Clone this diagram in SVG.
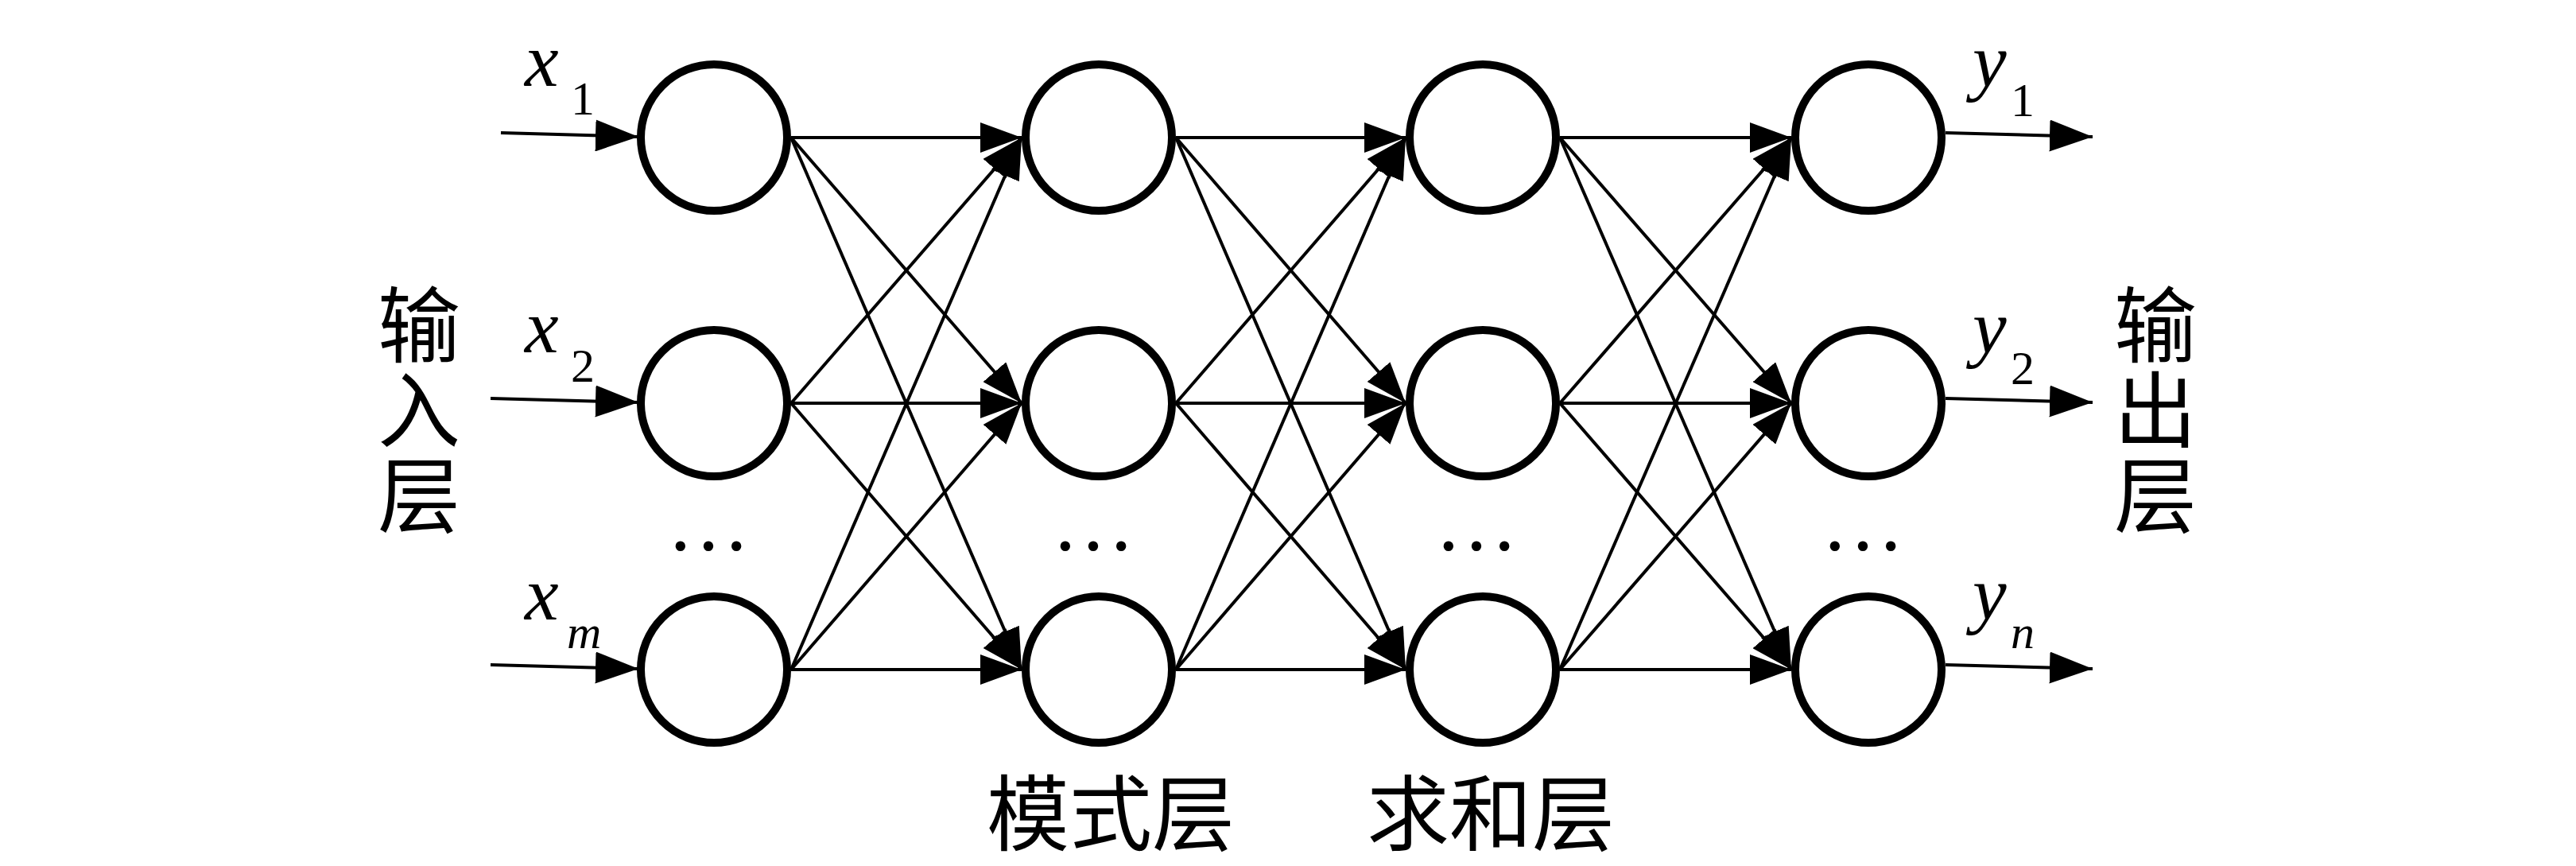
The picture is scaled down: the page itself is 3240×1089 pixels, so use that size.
<svg xmlns="http://www.w3.org/2000/svg" width="3240" height="1089" viewBox="0 0 3240 1089">
<style>
.node{fill:#fff;stroke:#000;stroke-width:10}
.edge{stroke:#000;stroke-width:4;fill:none;marker-end:url(#ah)}
.io{stroke:#000;stroke-width:4;fill:none;marker-end:url(#ah2)}
.var{font-family:"Liberation Serif","Times New Roman",serif;font-style:italic;font-size:96px;fill:#000}
.sub{font-family:"Liberation Serif","Times New Roman",serif;font-size:60px;fill:#000}
.subi{font-family:"Liberation Serif","Times New Roman",serif;font-style:italic;font-size:60px;fill:#000}
.dots{font-family:"Liberation Serif","Times New Roman",serif;font-size:105px;fill:#000;text-anchor:middle}
.cjk{font-family:"Noto Sans CJK SC","Noto Sans CJK JP",sans-serif;font-size:104px;fill:#000;text-anchor:middle}
.vcjk{font-family:"Noto Sans CJK SC","Noto Sans CJK JP",sans-serif;font-size:104px;fill:#000;writing-mode:vertical-rl;text-orientation:upright;letter-spacing:3px}
</style>
<defs>
<marker id="ah" viewBox="0 0 52 38" refX="52" refY="19" markerWidth="52" markerHeight="38" markerUnits="userSpaceOnUse" orient="auto">
<path d="M0,0 L52,19 L0,38 z" fill="#000"/>
</marker>
<marker id="ah2" viewBox="0 0 54 40" refX="54" refY="20" markerWidth="54" markerHeight="40" markerUnits="userSpaceOnUse" orient="auto">
<path d="M0,0 L54,20 L0,40 z" fill="#000"/>
</marker>
</defs>
<g id="connectors">
<line class="io" x1="630" y1="167" x2="803" y2="172"/>
<line class="io" x1="617" y1="501" x2="803" y2="506"/>
<line class="io" x1="617" y1="836" x2="803" y2="841"/>
<line class="io" x1="2447" y1="167" x2="2632" y2="172"/>
<line class="io" x1="2447" y1="501" x2="2632" y2="506"/>
<line class="io" x1="2447" y1="836" x2="2632" y2="841"/>
<line class="edge" x1="995" y1="173" x2="1285" y2="173"/>
<line class="edge" x1="995" y1="173" x2="1285" y2="507"/>
<line class="edge" x1="995" y1="173" x2="1285" y2="842"/>
<line class="edge" x1="995" y1="507" x2="1285" y2="173"/>
<line class="edge" x1="995" y1="507" x2="1285" y2="507"/>
<line class="edge" x1="995" y1="507" x2="1285" y2="842"/>
<line class="edge" x1="995" y1="842" x2="1285" y2="173"/>
<line class="edge" x1="995" y1="842" x2="1285" y2="507"/>
<line class="edge" x1="995" y1="842" x2="1285" y2="842"/>
<line class="edge" x1="1479" y1="173" x2="1768" y2="173"/>
<line class="edge" x1="1479" y1="173" x2="1768" y2="507"/>
<line class="edge" x1="1479" y1="173" x2="1768" y2="842"/>
<line class="edge" x1="1479" y1="507" x2="1768" y2="173"/>
<line class="edge" x1="1479" y1="507" x2="1768" y2="507"/>
<line class="edge" x1="1479" y1="507" x2="1768" y2="842"/>
<line class="edge" x1="1479" y1="842" x2="1768" y2="173"/>
<line class="edge" x1="1479" y1="842" x2="1768" y2="507"/>
<line class="edge" x1="1479" y1="842" x2="1768" y2="842"/>
<line class="edge" x1="1962" y1="173" x2="2253" y2="173"/>
<line class="edge" x1="1962" y1="173" x2="2253" y2="507"/>
<line class="edge" x1="1962" y1="173" x2="2253" y2="842"/>
<line class="edge" x1="1962" y1="507" x2="2253" y2="173"/>
<line class="edge" x1="1962" y1="507" x2="2253" y2="507"/>
<line class="edge" x1="1962" y1="507" x2="2253" y2="842"/>
<line class="edge" x1="1962" y1="842" x2="2253" y2="173"/>
<line class="edge" x1="1962" y1="842" x2="2253" y2="507"/>
<line class="edge" x1="1962" y1="842" x2="2253" y2="842"/>
</g>
<g id="input-layer">
<circle id="in1" class="node" cx="898" cy="173" r="92"/>
<circle id="in2" class="node" cx="898" cy="507" r="92"/>
<circle id="in3" class="node" cx="898" cy="842" r="92"/>
<text class="dots" x="891" y="692">…</text>
</g>
<g id="pattern-layer">
<circle id="p1" class="node" cx="1382" cy="173" r="92"/>
<circle id="p2" class="node" cx="1382" cy="507" r="92"/>
<circle id="p3" class="node" cx="1382" cy="842" r="92"/>
<text class="dots" x="1375" y="692">…</text>
</g>
<g id="sum-layer">
<circle id="s1" class="node" cx="1865" cy="173" r="92"/>
<circle id="s2" class="node" cx="1865" cy="507" r="92"/>
<circle id="s3" class="node" cx="1865" cy="842" r="92"/>
<text class="dots" x="1857" y="692">…</text>
</g>
<g id="output-layer">
<circle id="o1" class="node" cx="2350" cy="173" r="92"/>
<circle id="o2" class="node" cx="2350" cy="507" r="92"/>
<circle id="o3" class="node" cx="2350" cy="842" r="92"/>
<text class="dots" x="2343" y="692">…</text>
</g>
<g id="input-labels">
<text class="var" x="660" y="108">x</text><text class="sub" x="718" y="144">1</text>
<text class="var" x="660" y="443">x</text><text class="sub" x="718" y="480">2</text>
<text class="var" x="660" y="779">x</text><text class="subi" x="713" y="815">m</text>
</g>
<g id="output-labels">
<text class="var" x="2481" y="109">y</text><text class="sub" x="2529" y="146">1</text>
<text class="var" x="2481" y="444">y</text><text class="sub" x="2529" y="483">2</text>
<text class="var" x="2481" y="779">y</text><text class="subi" x="2529" y="815">n</text>
</g>
<g id="layer-titles">
<text class="vcjk" x="527" y="356">输入层</text>
<text class="vcjk" x="2711" y="356">输出层</text>
<text class="cjk" x="1397" y="1062">模式层</text>
<text class="cjk" x="1875" y="1062">求和层</text>
</g>
</svg>
